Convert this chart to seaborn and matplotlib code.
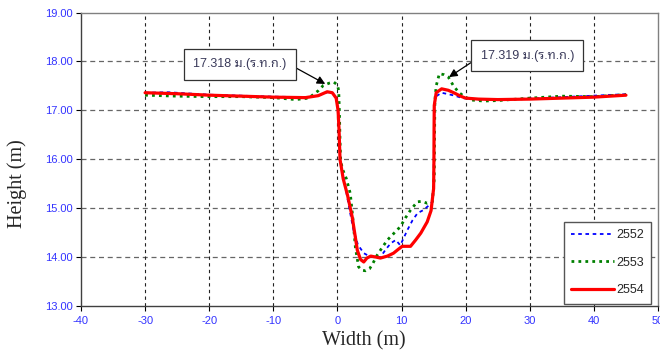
import pandas as pd
import matplotlib
matplotlib.use('Agg')
import matplotlib.pyplot as plt
from matplotlib import font_manager
from matplotlib.ft2font import FT2Font
import seaborn as sns

# --- Data (cross-section survey) ---
x_2552 = [-30, -26.4, -20, -15, -10, -5, -3, -1.6, -0.8, -0.2, 0.1, 0.25, 0.45, 0.95,
          1.7, 2.5, 3.2, 4.1, 5.2, 6.7, 7.5, 8.3, 9.1, 9.8, 10.9, 11.7, 12.5, 13.4,
          14.2, 14.8, 15.0, 15.05, 15.1, 15.3, 16.25, 17.3, 18.3, 19.5, 22, 25, 30,
          35, 40, 45]
y_2552 = [17.36, 17.37, 17.32, 17.30, 17.28, 17.27, 17.30, 17.37, 17.36, 17.25,
          17.0, 16.6, 16.0, 15.64, 15.1, 14.55, 14.25, 14.08, 14.0, 14.0, 14.15,
          14.28, 14.35, 14.24, 14.55, 14.75, 14.9, 14.96, 15.05, 15.13, 15.6, 16.5,
          17.1, 17.28, 17.36, 17.33, 17.30, 17.25, 17.22, 17.22, 17.24, 17.27,
          17.30, 17.33]

x_2553 = [-30, -25, -20, -15, -10, -6.5, -4.5, -3, -2.2, -1.2, -0.6, 0.0, 0.2, 0.3,
          0.4, 0.5, 0.73, 1.4, 2.0, 2.4, 2.8, 3.3, 3.8, 4.4, 5.0, 5.4, 6.2, 7.0,
          7.8, 9.8, 10.6, 11.4, 12.45, 13.2, 14.0, 14.8, 15.1, 15.15, 15.2, 15.4,
          15.9, 16.6, 17.3, 18.1, 18.9, 19.9, 21, 22.8, 25, 30, 35, 40, 45]
y_2553 = [17.31, 17.29, 17.28, 17.28, 17.26, 17.22, 17.25, 17.40, 17.51, 17.56,
          17.58, 17.52, 17.40, 17.0, 16.4, 16.0, 15.82, 15.6, 15.3, 14.8, 14.2,
          13.8, 13.73, 13.72, 13.76, 13.84, 14.04, 14.2, 14.35, 14.62, 14.8, 14.96,
          15.13, 15.14, 15.10, 15.13, 15.6, 16.5, 17.2, 17.5, 17.75, 17.73, 17.68,
          17.5, 17.37, 17.27, 17.21, 17.19, 17.20, 17.25, 17.29, 17.28, 17.32]

x_2554 = [-30, -25, -20, -15, -10, -5, -3, -1.6, -0.8, -0.2, 0.1, 0.25, 0.4, 0.9,
          1.6, 2.3, 2.8, 3.1, 3.6, 4.1, 4.6, 5.2, 6.0, 6.7, 7.8, 8.75, 9.5, 10.1,
          11.4, 12.2, 13.0, 14.0, 14.6, 15.0, 15.05, 15.07, 15.1, 15.4, 16.25,
          17.3, 18.3, 19.2, 20, 22, 25, 30, 35, 40, 45]
y_2554 = [17.36, 17.34, 17.31, 17.29, 17.27, 17.26, 17.30, 17.38, 17.36, 17.25,
          17.0, 16.6, 16.0, 15.6, 15.25, 14.82, 14.4, 14.14, 13.95, 13.9, 13.98,
          14.02, 14.0, 13.98, 14.02, 14.08, 14.16, 14.22, 14.22, 14.35, 14.49,
          14.72, 14.95, 15.4, 16.0, 16.6, 17.1, 17.36, 17.44, 17.41, 17.35, 17.29,
          17.25, 17.23, 17.22, 17.23, 17.25, 17.27, 17.31]

series_names = ['2552', '2553', '2554']
x_ticks = [-40, -30, -20, -10, 0, 10, 20, 30, 40, 50]
y_ticks = [13, 14, 15, 16, 17, 18, 19]
label_left = '17.318 ม.(ร.ท.ก.)'
label_right = '17.319 ม.(ร.ท.ก.)'

# pick a font with Thai glyphs
names = {f.name for f in font_manager.fontManager.ttflist}
thai_font = None
for n in ['Noto Sans Thai Looped', 'Tahoma', 'Loma', 'Sarabun', 'Noto Sans Thai']:
    if n in names:
        thai_font = n
        break
if thai_font is None:
    for f in font_manager.fontManager.ttflist:
        try:
            if 0x0E21 in FT2Font(f.fname).get_charmap():
                thai_font = f.name
                break
        except Exception:
            pass
ann_family = ['Liberation Sans', thai_font] if thai_font else ['Liberation Sans']

sns.set_theme(style="white")
plt.rcParams['font.family'] = ['Liberation Sans', 'DejaVu Sans']
plt.rcParams['axes.unicode_minus'] = False

fig = plt.figure(figsize=(6.6, 3.58), dpi=100)
ax = fig.add_axes([0.1227, 0.1453, 0.8743, 0.8197])

styles = {
    '2552': dict(color='#0000ff', linewidth=1.3, linestyle=(0, (2, 2))),
    '2553': dict(color='#008000', linewidth=2.0, linestyle=(0, (1, 1.5))),
    '2554': dict(color='#ff0000', linewidth=2.3, linestyle='-'),
}
data = {'2552': (x_2552, y_2552), '2553': (x_2553, y_2553), '2554': (x_2554, y_2554)}

for name in series_names:
    xs, ys = data[name]
    df = pd.DataFrame({'x': xs, 'y': ys})
    sns.lineplot(data=df, x='x', y='y', sort=False, ax=ax, label=name,
                 zorder=3, **styles[name])

ax.set_xlim(-40, 50)
ax.set_ylim(13, 19)
ax.set_xticks(x_ticks)
ax.set_yticks(y_ticks)
ax.set_yticklabels([f'{v:.2f}' for v in y_ticks])
ax.tick_params(axis='both', direction='out', length=3.5, width=0.8, color='black',
               labelsize=8, labelcolor='#3333ff', bottom=True, left=True)
ax.tick_params(axis='y', pad=2.5)
ax.tick_params(axis='x', pad=4)

# dashed grid
for v in y_ticks[1:-1]:
    ax.axhline(v, color='#666666', linestyle=(0, (4, 3)), linewidth=0.9, zorder=1)
for v in x_ticks[1:-1]:
    ax.axvline(v, color='#222222', linestyle=(0, (3, 3)), linewidth=0.8, zorder=1)

for side in ['top', 'right']:
    ax.spines[side].set_color('#808080')
for side in ['left', 'bottom']:
    ax.spines[side].set_color('#404040')
for s in ax.spines.values():
    s.set_linewidth(1.0)

ax.set_xlabel('Width (m)', fontsize=14.5, family='Liberation Serif')
ax.set_ylabel('Height (m)', fontsize=14.5, family='Liberation Serif')
ax.xaxis.set_label_coords(0.49, -0.085)
ax.yaxis.set_label_coords(-0.094, 0.418)

# annotations
box = dict(boxstyle='square,pad=0.75', facecolor='white', edgecolor='#333333', linewidth=0.9)
ax.annotate(label_left, xy=(-1.9, 17.54), xytext=(-15.2, 17.94),
            fontsize=9, color='#3a3a5a', ha='center', va='center', bbox=box,
            family=ann_family,
            arrowprops=dict(arrowstyle='-|>', color='black', lw=0.9, relpos=(1, 0.63),
                            shrinkA=0, shrinkB=0, mutation_scale=12))
ax.annotate(label_right, xy=(17.4, 17.68), xytext=(29.6, 18.12),
            fontsize=9, color='#3a3a5a', ha='center', va='center', bbox=box,
            family=ann_family,
            arrowprops=dict(arrowstyle='-|>', color='black', lw=0.9, relpos=(0, 0.44),
                            shrinkA=0, shrinkB=0, mutation_scale=12))

leg = ax.legend(loc='lower right', bbox_to_anchor=(0.988, 0.007), fontsize=9,
                frameon=True, fancybox=False, handlelength=3.4, labelspacing=1.25,
                handletextpad=0.15, borderpad=0.6, borderaxespad=0)
leg.get_frame().set_edgecolor('#555555')
leg.get_frame().set_linewidth(1.0)
leg.get_frame().set_alpha(1)

fig.savefig('out.png', dpi=100)
